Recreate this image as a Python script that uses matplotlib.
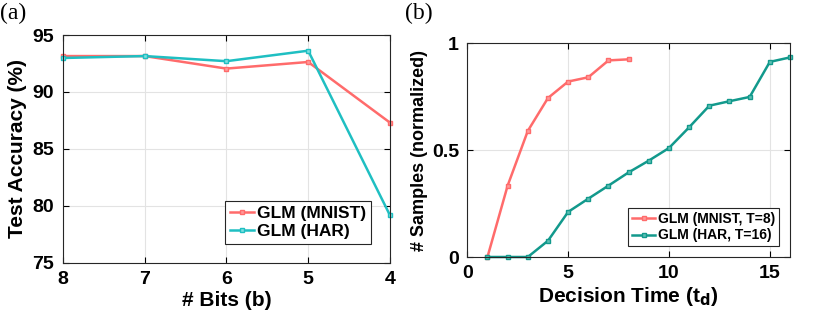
import matplotlib.pyplot as plt

bits = [8, 7, 6, 5, 4]
acc_mnist = [93.15, 93.15, 92.05, 92.63, 87.3]
acc_har = [92.98, 93.15, 92.7, 93.62, 79.16]

t_mnist = [1, 2, 3, 4, 5, 6, 7, 8]
samples_mnist = [0.0, 0.334, 0.59, 0.744, 0.821, 0.841, 0.920, 0.925]
t_har = list(range(1, 17))
samples_har = [0.0, 0.0, 0.0, 0.076, 0.211, 0.273, 0.334, 0.396, 0.451,
               0.510, 0.607, 0.708, 0.729, 0.749, 0.913, 0.934]

red = '#FF6B6B'
cyan = '#1FBFC2'
teal = '#12998C'

plt.rcParams['font.family'] = ['Liberation Sans', 'DejaVu Sans']
plt.rcParams['font.weight'] = 'bold'

fig = plt.figure(figsize=(8.3, 3.23), dpi=100)
W, H = 830, 323


def style(ax):
    ax.grid(True, color='#e3e3e3', linewidth=0.8)
    ax.set_axisbelow(True)
    ax.tick_params(direction='in', top=True, right=True, length=4,
                   labelsize=14, width=0.8, pad=6)
    for s in ax.spines.values():
        s.set_linewidth(0.8)
        s.set_color('#262626')
    for lab in ax.get_xticklabels() + ax.get_yticklabels():
        lab.set_fontweight('bold')


def style_legend(leg):
    leg.get_frame().set_edgecolor('#262626')
    leg.get_frame().set_linewidth(0.8)


# panel (a)
ax1 = fig.add_axes([62.7 / W, 1 - 262.7 / H, (390 - 62.7) / W, (262.7 - 35) / H])
ax1.plot(bits, acc_mnist, color=red, lw=1.8, marker='s', ms=3.5,
         mfc='#FF9A9A', mec=red, label='GLM (MNIST)', clip_on=False)
ax1.plot(bits, acc_har, color=cyan, lw=1.8, marker='s', ms=3.5,
         mfc='#7FE0E0', mec=cyan, label='GLM (HAR)', clip_on=False)
ax1.set_xlim(8, 4)
ax1.set_ylim(75, 95)
ax1.set_xticks(bits)
ax1.set_yticks([75, 80, 85, 90, 95])
style(ax1)
ax1.set_xlabel('# Bits (b)', fontsize=15, fontweight='bold', labelpad=2)
ax1.set_ylabel('Test Accuracy (%)', fontsize=15, fontweight='bold', labelpad=4)
leg1 = ax1.legend(loc='lower right', prop={'weight': 'bold', 'size': 12.5},
                  handlelength=1.4, handletextpad=0.2, borderpad=0.25,
                  labelspacing=0.2, fancybox=False, framealpha=1,
                  borderaxespad=1.1)
style_legend(leg1)

# panel (b)
ax2 = fig.add_axes([467.3 / W, 1 - 257 / H, (790 - 467.3) / W, (257 - 43.3) / H])
ax2.plot(t_mnist, samples_mnist, color=red, lw=1.8, marker='s', ms=3.5,
         mfc='#FF9A9A', mec=red, label='GLM (MNIST, T=8)', clip_on=False)
ax2.plot(t_har, samples_har, color=teal, lw=1.8, marker='s', ms=3.5,
         mfc='#5FC0B5', mec=teal, label='GLM (HAR, T=16)', clip_on=False)
ax2.set_xlim(0, 16)
ax2.set_ylim(0, 1)
ax2.set_xticks([0, 5, 10, 15])
ax2.set_yticks([0, 0.5, 1])
ax2.set_yticklabels(['0', '0.5', '1'])
style(ax2)
ax2.set_xlabel('Decision Time (t$_\\mathbf{d}$)', fontsize=15, fontweight='bold', labelpad=2)
ax2.set_ylabel('# Samples (normalized)', fontsize=13, fontweight='bold', labelpad=3)
leg2 = ax2.legend(loc='lower right',
                  prop={'family': 'Liberation Sans', 'weight': 'bold', 'size': 10},
                  handlelength=1.7, handletextpad=0.2, borderpad=0.25,
                  labelspacing=0.2, fancybox=False, framealpha=1,
                  borderaxespad=0.8)
style_legend(leg2)

fig.text(0.0, 0.99, '(a)', fontsize=17, fontweight='normal',
         family=['Liberation Serif'], va='top', ha='left')
fig.text(405 / W, 0.99, '(b)', fontsize=17, fontweight='normal',
         family=['Liberation Serif'], va='top', ha='left')

fig.savefig('out.png', dpi=100)
